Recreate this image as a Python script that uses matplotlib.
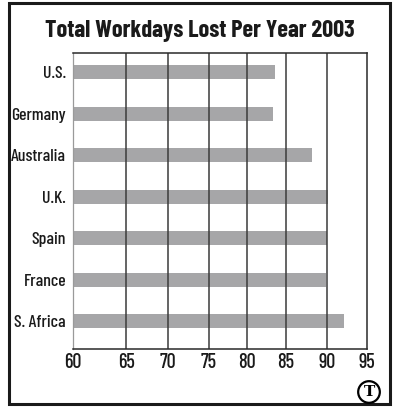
import matplotlib
matplotlib.use("Agg")
import matplotlib.pyplot as plt
import numpy as np
from matplotlib.patches import Rectangle

countries = ["U.S.", "Germany", "Australia", "U.K.", "Spain", "France", "S. Africa"]
days_lost = [83.6, 83.4, 88.2, 90.2, 90.0, 89.9, 92.1]
tick_values = [60, 65, 70, 75, 80, 85, 90, 95]
# the printed grid is not evenly spaced, so the axis follows the drawn gridlines
grid_pos = [0.0, 53.6, 95.0, 136.6, 175.0, 213.3, 254.6, 295.0]

font = ["Barlow Condensed", "DejaVu Sans"]
plt.rcParams["font.family"] = font
plt.rcParams["font.stretch"] = "condensed"
plt.rcParams["font.weight"] = 500
plt.rcParams["xtick.labelsize"] = 14.5
plt.rcParams["ytick.labelsize"] = 12.8
plt.rcParams["xtick.color"] = "#1a1a1a"
plt.rcParams["ytick.color"] = "#1a1a1a"

fig = plt.figure(figsize=(3.93, 4.07), dpi=100)
W, H = 393, 407

# outer frame
fig.patches.append(Rectangle((8.5 / W, 1 - 404 / H), 381 / W, 401 / H,
                             transform=fig.transFigure, fill=False,
                             edgecolor="#1a1a1a", linewidth=2.2))

ax = fig.add_axes([73 / W, 1 - 349 / H, 294 / W, 296 / H])
ax.set_xscale("function", functions=(lambda x: np.interp(x, tick_values, grid_pos),
                                     lambda p: np.interp(p, grid_pos, tick_values)))
ax.set_xlim(60, 95)

y = np.arange(len(countries))
vals = np.array(days_lost)
ax.barh(y, vals - 60, left=60, height=0.34, color="#a6a6a8", zorder=1)
ax.set_ylim(6.67, -0.46)

ax.set_xticks(tick_values)
ax.set_xticks([], minor=True)
ax.set_yticks(y)
ax.set_yticklabels(countries)
ax.tick_params(axis="y", length=0, pad=5)
ax.tick_params(axis="x", length=0, pad=3, labelsize=14.5)

for t in tick_values[1:-1]:
    ax.axvline(t, color="#3a3a3a", linewidth=1.1, zorder=2)

for side in ["top", "right", "bottom"]:
    ax.spines[side].set_color("#2a2a2a")
    ax.spines[side].set_linewidth(1.1)
ax.spines["left"].set_color("#9a9a9a")
ax.spines["left"].set_linewidth(0.9)

fig.text(200 / W, 1 - 31 / H, "Total Workdays Lost Per Year 2003",
         ha="center", va="center", fontsize=17.5, fontweight="bold",
         color="#1a1a1a")

# logo
fig.text(369 / W, 1 - 392 / H, "T", ha="center", va="center", fontsize=11,
         fontweight="bold", family=["DejaVu Serif"], stretch="normal",
         bbox=dict(boxstyle="circle,pad=0.25", facecolor="white",
                   edgecolor="black", linewidth=1.6))

fig.savefig("out.png", dpi=100)
